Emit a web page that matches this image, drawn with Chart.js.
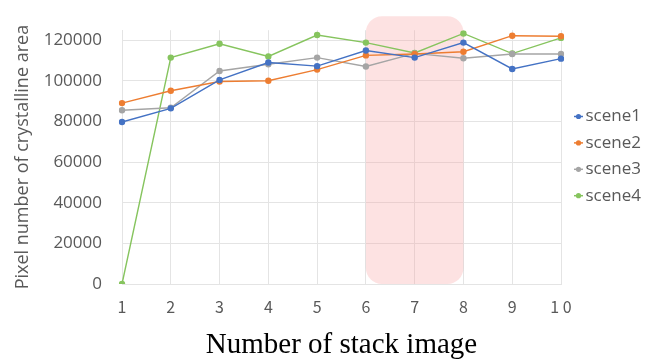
<!DOCTYPE html>
<html>
<head>
<meta charset="utf-8">
<script src="https://cdn.jsdelivr.net/npm/chart.js@4/dist/chart.umd.min.js"></script>
<style>
  html, body { margin: 0; padding: 0; background: #ffffff; }
  #wrap { width: 656px; height: 363px; }
</style>
</head>
<body>
<div id="wrap"><canvas id="c" width="656" height="363"></canvas></div>
<script>
// Stack image count on the x axis
const categories = ['1', '2', '3', '4', '5', '6', '7', '8', '9', '1 0'];

// Crystalline area (pixels) per scene
const scene1 = [79800, 86500, 100500, 109100, 107300, 115000, 111500, 118900, 105900, 111000];
const scene2 = [89100, 95200, 99700, 100100, 105600, 112600, 113300, 114400, 122300, 122000];
const scene3 = [85600, 86800, 104900, 108200, 111500, 107100, 113600, 111200, 113300, 113300];
const scene4 = [0, 111500, 118300, 112100, 122600, 118900, 113800, 123400, 113500, 121200];

const seriesNames = ['scene1', 'scene2', 'scene3', 'scene4'];
const seriesColors = ['#4472C4', '#ED7D31', '#A5A5A5', '#86C45E'];

// Y axis tick values
const yTicks = [0, 20000, 40000, 60000, 80000, 100000, 120000];

// Highlighted range of stack images
const highlightFrom = '6';
const highlightTo = '8';

const TEXT = '#595959';
const GRID = '#e4e4e4';

// Shaded band behind the lines
const bandPlugin = {
  id: 'band',
  beforeDatasetsDraw(chart) {
    const { ctx, chartArea, scales } = chart;
    const x0 = scales.x.getPixelForValue(categories.indexOf(highlightFrom));
    const x1 = scales.x.getPixelForValue(categories.indexOf(highlightTo));
    const y0 = chartArea.top - 14;
    const y1 = scales.y.getPixelForValue(0);
    ctx.save();
    ctx.fillStyle = 'rgba(250,160,160,0.30)';
    ctx.beginPath();
    ctx.roundRect(x0, y0, x1 - x0, y1 - y0, 16);
    ctx.fill();
    ctx.restore();
  }
};

// Legend on the right: short line with a dot, then the series name
const legendPlugin = {
  id: 'sideLegend',
  afterDraw(chart) {
    const { ctx } = chart;
    const startY = 116.5;
    const step = 26.4;
    ctx.save();
    ctx.font = '17px "Open Sans"';
    ctx.textBaseline = 'middle';
    ctx.textAlign = 'left';
    seriesNames.forEach((name, i) => {
      const y = startY + i * step;
      ctx.strokeStyle = seriesColors[i];
      ctx.lineWidth = 1.5;
      ctx.beginPath();
      ctx.moveTo(574, y);
      ctx.lineTo(583, y);
      ctx.stroke();
      ctx.fillStyle = seriesColors[i];
      ctx.beginPath();
      ctx.arc(578.5, y, 2.6, 0, Math.PI * 2);
      ctx.fill();
      ctx.fillStyle = TEXT;
      ctx.fillText(name, 585.5, y);
    });
    ctx.restore();
  }
};

const dataSets = [scene1, scene2, scene3, scene4].map((vals, i) => ({
  label: seriesNames[i],
  data: vals,
  borderColor: seriesColors[i],
  backgroundColor: seriesColors[i],
  borderWidth: 1.4,
  pointRadius: 3.2,
  pointBorderWidth: 0,
  pointHoverRadius: 3.2,
  tension: 0,
  fill: false
}));

new Chart(document.getElementById('c'), {
  type: 'line',
  data: { labels: categories, datasets: dataSets },
  plugins: [bandPlugin, legendPlugin],
  options: {
    responsive: false,
    animation: false,
    events: [],
    layout: { padding: { left: 0, right: 95, top: 16, bottom: 0 } },
    plugins: { legend: { display: false }, tooltip: { enabled: false } },
    scales: {
      x: {
        type: 'category',
        offset: false,
        grid: { color: GRID, lineWidth: 1, drawTicks: false },
        border: { color: GRID },
        ticks: {
          color: TEXT,
          font: { family: '"Noto Sans CJK JP"', size: 16 },
          padding: 13,
          maxRotation: 0,
          autoSkip: false
        },
        title: {
          display: true,
          text: 'Number of stack image',
          color: '#000000',
          font: { family: '"Liberation Serif"', size: 29 },
          padding: { top: 0, bottom: 0 }
        },
        afterFit(scale) { scale.height = 79; }
      },
      y: {
        min: 0,
        max: 125000,
        grid: { color: GRID, lineWidth: 1, drawTicks: false },
        border: { color: GRID },
        afterBuildTicks(scale) { scale.ticks = yTicks.map(v => ({ value: v })); },
        ticks: {
          color: TEXT,
          font: { family: '"Open Sans"', size: 17 },
          padding: 20,
          callback: (v) => String(v)
        },
        title: {
          display: true,
          text: 'Pixel number of crystalline area',
          color: TEXT,
          font: { family: '"Open Sans"', size: 18 },
          padding: { top: 12, bottom: 0 }
        },
        afterFit(scale) { scale.width = 122; }
      }
    }
  }
});
</script>
</body>
</html>
